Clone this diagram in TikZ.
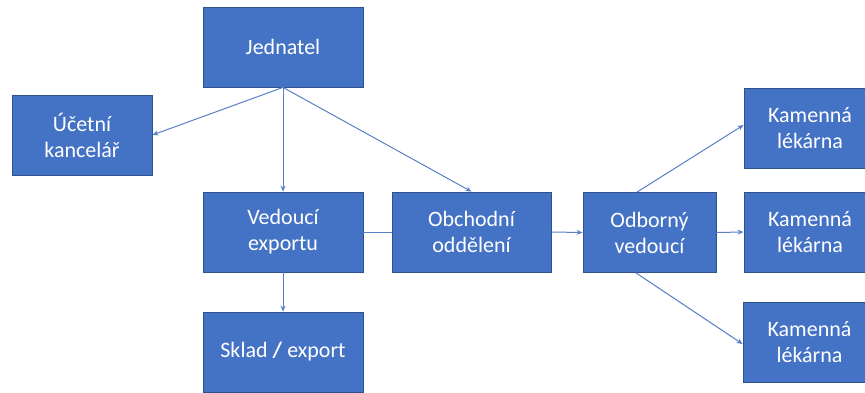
\documentclass[tikz,border=0pt]{standalone}
\usepackage{fontspec}
\setmainfont{Carlito}
\usetikzlibrary{arrows.meta}
\definecolor{boxfill}{HTML}{4472C4}
\definecolor{boxline}{HTML}{2F528F}
\definecolor{conn}{HTML}{5B7FC6}
\begin{document}
\begin{tikzpicture}[x=1pt,y=-1pt,
  orgbox/.style={draw=boxline,line width=0.8pt,fill=boxfill,text=white,align=center,
    minimum height=80pt,inner sep=0pt,font=\fontsize{22}{26}\selectfont},
  link/.style={draw=conn,line width=1pt,-{Stealth[length=6pt,width=5pt]}},
  plain/.style={draw=conn,line width=1pt}]
\useasboundingbox (0,0) rectangle (865,392);
\clip (0,0) rectangle (865,392);
\node[orgbox,minimum width=160pt] (J) at (283,47) {Jednatel};
\node[orgbox,minimum width=140pt] (U) at (82,135) {Účetní\\kancelář};
\node[orgbox,minimum width=160pt] (V) at (283,232) {Vedoucí\\exportu};
\node[orgbox,minimum width=159pt] (O) at (471.5,232) {Obchodní\\oddělení};
\node[orgbox,minimum width=133pt] (D) at (649.5,232.5) {Odborný\\vedoucí};
\node[orgbox,minimum width=132pt] (K1) at (810,128) {Kamenná\\lékárna};
\node[orgbox,minimum width=132pt] (K2) at (810,232) {Kamenná\\lékárna};
\node[orgbox,minimum width=133pt] (K3) at (809.5,342) {Kamenná\\lékárna};
\node[orgbox,minimum width=160pt] (S) at (283,352) {Sklad \textbf{/} export};
\coordinate (Dt) at ([xshift=-12.5pt]D.north);
\coordinate (Db) at ([xshift=-13.5pt]D.south);
\draw[link] (J.south) -- (U.east);
\draw[link] (J.south) -- (V.north);
\draw[link] (J.south) -- (O.north);
\draw[plain] (V.east) -- (O.west);
\draw[link] (V.south) -- (S.north);
\draw[link] (O.east) -- (D.west);
\draw[link] (Dt) -- ([yshift=3pt]K1.west);
\draw[link] (D.east) -- (K2.west);
\draw[link] (Db) -- ([yshift=-2pt]K3.west);
\end{tikzpicture}
\end{document}
